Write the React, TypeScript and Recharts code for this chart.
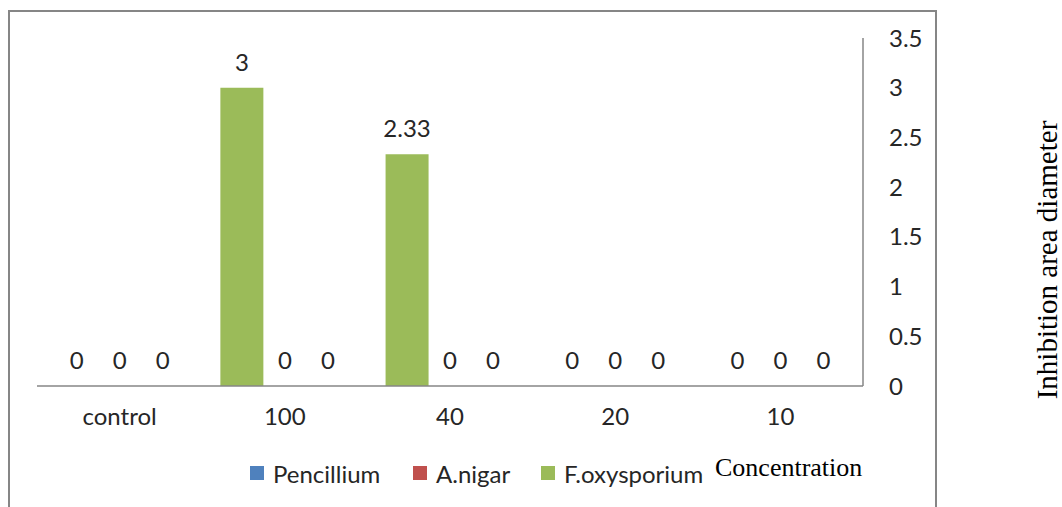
import { BarChart, Bar, XAxis, YAxis, LabelList } from 'recharts';

const categories = ['control', '100', '40', '20', '10'];
const fOxysporium = [0, 3, 2.33, 0, 0];
const pencillium = [0, 0, 0, 0, 0];
const aNigar = [0, 0, 0, 0, 0];
const yTicks = [0, 0.5, 1, 1.5, 2, 2.5, 3, 3.5];

// bars are drawn green first, the legend lists them in the original order
const series = [
  { key: 'fox', name: 'F.oxysporium', color: '#9BBB59', values: fOxysporium },
  { key: 'pen', name: 'Pencillium', color: '#4F81BD', values: pencillium },
  { key: 'ani', name: 'A.nigar', color: '#C0504D', values: aNigar },
];
const legendOrder = ['Pencillium', 'A.nigar', 'F.oxysporium'];

const data = categories.map((name, i) => {
  const row: any = { name };
  series.forEach((s) => (row[s.key] = s.values[i]));
  return row;
});

const font = 'Lato, "Open Sans", sans-serif';
const serif = '"Liberation Serif", "Times New Roman", serif';
const textColor = '#262626';
const fs = 24;

// label sits 17px above the bar top (or the axis for zero values)
const valueLabel = (props: any) => {
  const { x, y, width, height, value } = props;
  const top = Math.min(y, y + height);
  return (
    <text x={x + width / 2} y={top - 17} textAnchor="middle" fill={textColor} fontSize={fs} fontFamily={font}>
      {value}
    </text>
  );
};

export default function App() {
  return (
    <div style={{ position: 'absolute', left: 0, top: 0, width: 1062, height: 507, overflow: 'hidden', background: '#fff' }}>
      <div style={{ position: 'absolute', left: 8, top: 10, width: 929, height: 530, border: '2px solid #868686', boxSizing: 'border-box' }} />
      <div style={{ position: 'absolute', left: 0, top: 0 }}>
        <BarChart
          width={1062}
          height={507}
          data={data}
          margin={{ top: 38, right: 139, left: 37, bottom: 91 }}
          barCategoryGap="11%"
          barGap={0}
        >
          <XAxis
            dataKey="name"
            axisLine={{ stroke: '#868686', strokeWidth: 1.5 }}
            tickLine={false}
            tickMargin={16}
            height={30}
            tick={{ fill: textColor, fontSize: fs, fontFamily: font }}
          />
          <YAxis
            orientation="right"
            domain={[0, 3.5]}
            ticks={yTicks}
            width={60}
            axisLine={{ stroke: '#868686', strokeWidth: 1.5 }}
            tickLine={false}
            tickMargin={20}
            tick={{ fill: textColor, fontSize: fs, fontFamily: font, textAnchor: 'start' }}
          />
          {series.map((s) => (
            <Bar
              key={s.key}
              dataKey={s.key}
              name={s.name}
              fill={s.color}
              minPointSize={0.01}
              isAnimationActive={false}
            >
              <LabelList dataKey={s.key} content={valueLabel} />
            </Bar>
          ))}
        </BarChart>
      </div>
      {legendOrder.map((n, i) => {
        const s = series.find((x) => x.name === n)!;
        const left = [250, 413, 541][i];
        return (
          <div
            key={n}
            style={{ position: 'absolute', left, top: 458, height: 30, display: 'flex', alignItems: 'center', fontFamily: font, fontSize: fs, color: textColor, whiteSpace: 'nowrap' }}
          >
            <span style={{ width: 14, height: 14, background: s.color, marginRight: 9, display: 'inline-block' }} />
            <span>{s.name}</span>
          </div>
        );
      })}
      <svg width={1062} height={507} style={{ position: 'absolute', left: 0, top: 0, pointerEvents: 'none' }}>
        <text x={715} y={476} fontFamily={serif} fontSize={26} fill="#000">
          Concentration
        </text>
        <text x={1057} y={260} transform="rotate(-90 1057 260)" textAnchor="middle" fontFamily={serif} fontSize={29} fill="#000">
          Inhibition area diameter
        </text>
      </svg>
    </div>
  );
}
